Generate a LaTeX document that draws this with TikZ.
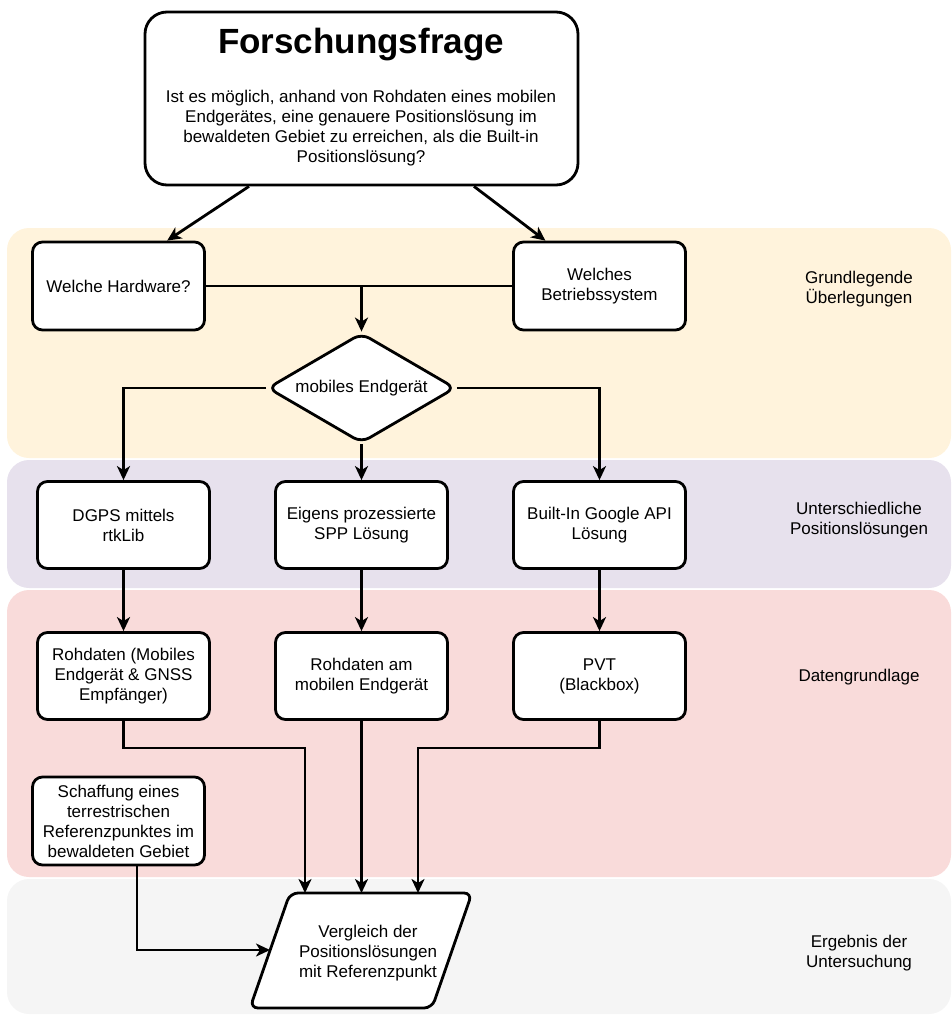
\documentclass[tikz,border=0pt]{standalone}
\usepackage{fontspec}
\setmainfont{Liberation Sans}
\usetikzlibrary{shapes.geometric,arrows.meta}
\definecolor{bandY}{HTML}{FFF3DC}
\definecolor{bandP}{HTML}{E7E1ED}
\definecolor{bandR}{HTML}{F9DBDA}
\definecolor{bandG}{HTML}{F5F5F5}
\begin{document}
\begin{tikzpicture}[x=1pt,y=-1pt,
  txt/.style={font=\fontsize{17}{20}\selectfont, align=center},
  box/.style={txt, draw, line width=2.8pt, rounded corners=10pt, fill=white,
    minimum width=172pt, minimum height=87pt, inner sep=2pt},
  conn/.style={line width=2.8pt},
  arr/.style={conn, -{Stealth[length=14pt,width=13pt,inset=4pt]}},
  band/.style={rounded corners=22pt},
  lab/.style={txt}
]
\useasboundingbox (0,0) rectangle (952,1017);
% bands
\fill[bandY, band] (7,228) rectangle (951,458);
\fill[bandP, band] (7,460) rectangle (951,588);
\fill[bandR, band] (7,590) rectangle (951,877);
\fill[bandG, band] (7,879) rectangle (951,1014);
% band labels
\node[lab] (l1) at (859,289.5) {Grundlegende\\Überlegungen};
\node[lab] (l2) at (859,520.5) {Unterschiedliche\\Positionslösungen};
\node[lab] (l3) at (859,677) {Datengrundlage};
\node[lab] (l4) at (859,953) {Ergebnis der\\Untersuchung};
% question
\node[box, minimum width=433pt, minimum height=173pt, rounded corners=22pt] (q) at (361.5,98.5) {};
\node[font=\fontsize{35}{42}\selectfont\bfseries] (qt) at (361,45) {Forschungsfrage};
\node[lab] (qb) at (361,128) {Ist es möglich, anhand von Rohdaten eines mobilen\\Endgerätes, eine genauere Positionslösung im\\bewaldeten Gebiet zu erreichen, als die Built-in\\Positionslösung?};
% first row
\node[box, minimum height=88pt] (hw) at (118.5,286) {Welche Hardware?};
\node[box, minimum height=88pt] (bs) at (599.5,286) {Welches\\Betriebssystem};
\node[txt, draw, diamond, shape aspect=1.71, line width=2.8pt, fill=white, rounded corners=9pt,
  minimum width=188pt, minimum height=110pt, inner sep=0pt] (dia) at (361.5,388) {mobiles Endgerät};
% second row
\node[box] (dg) at (123.5,525) {DGPS mittels\\rtkLib};
\node[box] (ep) at (361.5,525) {Eigens prozessierte\\SPP Lösung};
\node[box] (bi) at (599.5,525) {Built-In Google API\\Lösung};
% third row
\node[box] (r1) at (123.5,676) {Rohdaten (Mobiles\\Endgerät \& GNSS\\Empfänger)};
\node[box] (r2) at (361.5,676) {Rohdaten am\\mobilen Endgerät};
\node[box] (r3) at (599.5,676) {PVT\\(Blackbox)};
\node[box, minimum height=88pt] (sf) at (118.5,821) {Schaffung eines\\terrestrischen\\Referenzpunktes im\\bewaldeten Gebiet};
% result (parallelogram)
\draw[line width=2.8pt, fill=white, rounded corners=8pt]
  (290,893) -- (472,893) -- (432,1008) -- (250,1008) -- cycle;
\coordinate (ptop) at (361,893);
\coordinate (pleft) at (270,950);
\node[lab] (cmp) at (368,953) {Vergleich der\\Positionslösungen\\mit Referenzpunkt};
% connectors
\draw[arr] (q.218) -- (hw.43);
\draw[arr] (q.322) -- (bs.140);
\draw[conn] (hw.east) -- (bs.west);
\coordinate (m1) at (hw.east -| dia.north);
\draw[arr] (m1) -- (dia.north);
\draw[arr] (dia.west) -| (dg.north);
\draw[arr] (dia.south) -- (ep.north);
\draw[arr] (dia.east) -| (bi.north);
\draw[arr] (dg.south) -- (r1.north);
\draw[arr] (ep.south) -- (r2.north);
\draw[arr] (bi.south) -- (r3.north);
\coordinate (e1) at (305,748);
\coordinate (e3) at (418,748);
\coordinate (e4) at (137,950);
\draw[arr] (r1.south) |- (e1) -- (e1 |- ptop);
\draw[arr] (r2.south) -- (r2.south |- ptop);
\draw[arr] (r3.south) |- (e3) -- (e3 |- ptop);
\draw[arr] (sf.south -| e4) |- (pleft);
\end{tikzpicture}
\end{document}
